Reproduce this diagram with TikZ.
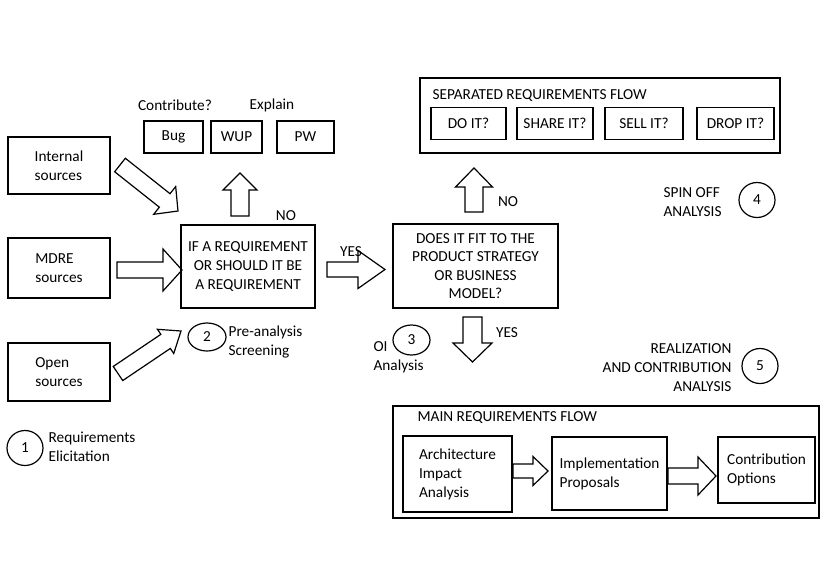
\documentclass[tikz,border=0pt]{standalone}
\usepackage{fontspec}
\setmainfont{Carlito}
\usetikzlibrary{calc, shapes.geometric}

\newcommand{\fatarrow}[5]{%
  \coordinate (fa base) at ($(#2)!#5!(#1)$);
  \draw[fat arrow] ($(#1)!#3!90:(#2)$) -- ($(fa base)!#3!90:(#2)$)
    -- ($(fa base)!#4!90:(#2)$) -- (#2) -- ($(fa base)!#4!-90:(#2)$)
    -- ($(fa base)!#3!-90:(#2)$) -- ($(#1)!#3!-90:(#2)$) -- cycle;}

\begin{document}
\begin{tikzpicture}[x=1pt, y=-1pt, line width=1.2pt,
  every node/.style={font=\fontsize{15.3pt}{19pt}\selectfont},
  box/.style={draw, align=left, inner sep=0pt},
  choice/.style={draw, align=center, inner sep=0pt, minimum height=32pt},
  stage/.style={ellipse, draw, inner sep=0pt, minimum width=36pt, minimum height=35pt},
  note/.style={inner sep=0pt, align=left},
  fat arrow/.style={draw, line join=miter}]
\useasboundingbox (0,0) rectangle (830,587);

\node[box, minimum width=102pt, minimum height=57pt](internal) at (59,165.5){Internal\\sources};
\node[box, minimum width=102pt, minimum height=60pt](mdre) at (59,268){MDRE\\sources};
\node[box, minimum width=102pt, minimum height=58pt](open) at (59,372){Open\\sources};

\node[box, align=center, minimum width=134pt, minimum height=83pt](screen) at (248,266.5){IF A REQUIREMENT\\OR SHOULD IT BE\\A REQUIREMENT};
\foreach \n/\x/\w/\t in {bug/173.5/59/Bug, wup/236.5/51/WUP, pw/305.5/57/PW}{
    \node[choice, minimum width=\w pt](\n) at (\x,137){\t};}
\node[note](contribute) at (175,105){Contribute?};
\node[note](explain) at (272,105){Explain};

\node[box, align=center, minimum width=165pt, minimum height=84pt,
  font=\fontsize{15.3pt}{18.4pt}\selectfont](fit) at (475.5,266){DOES IT FIT TO THE\\PRODUCT STRATEGY\\OR BUSINESS\\MODEL?};

\node[box, minimum width=360pt, minimum height=75pt](separated) at (600,115.5){};
\node[note, anchor=west](sep title) at (432,96){SEPARATED REQUIREMENTS FLOW};
\foreach \n/\x/\w/\t in {doit/468.5/75/DO IT?, shareit/555/76/SHARE IT?, sellit/644/78/SELL IT?, dropit/735.5/77/DROP IT?}{
    \node[choice, minimum width=\w pt](\n) at (\x,123.5){\t};}

\node[box, minimum width=426pt, minimum height=112pt](mainflow) at (606,462){};
\node[note, anchor=west](main title) at (417,418){MAIN REQUIREMENTS FLOW};
\node[box, minimum width=109pt, minimum height=76pt](arch) at (457.5,474){Architecture\\Impact\\Analysis};
\node[box, minimum width=115pt, minimum height=73pt](impl) at (609.5,473.5){Implementation\\Proposals};
\node[box, minimum width=97pt, minimum height=66pt](contrib) at (766.5,470){Contribution\\Options};

\node[stage](s1) at (25,448){1};
\node[note, anchor=west](s1 text) at (48,447){Requirements\\Elicitation};
\node[stage, minimum width=38pt, minimum height=28pt](s2) at (207,337){2};
\node[note, anchor=west](s2 text) at (228,342){Pre-analysis\\Screening};
\node[stage, minimum width=37pt, minimum height=30pt](s3) at (411.5,340){3};
\node[note, anchor=west](s3 text) at (373,357){OI\\Analysis};
\node[stage](s4) at (757,200){4};
\node[note, anchor=west](s4 text) at (663,202){SPIN OFF\\ANALYSIS};
\node[stage](s5) at (760,366){5};
\node[note, anchor=east, align=right](s5 text) at (732,368){REALIZATION\\AND CONTRIBUTION\\ANALYSIS};

\node[note](no screen) at (286,216){NO};
\node[note](yes screen) at (351,252){YES};
\node[note](no fit) at (508,202){NO};
\node[note](yes fit) at (507,333){YES};

\coordinate (a1 tail) at (120,165);   \coordinate (a1 tip) at (178,211);
\coordinate (a2 tail) at (117,270);   \coordinate (a2 tip) at (182,270);
\coordinate (a3 tail) at (118,373.5); \coordinate (a3 tip) at (181,331);
\coordinate (a4 tail) at (240,216);   \coordinate (a4 tip) at (240,173);
\coordinate (a5 tail) at (327,269.5); \coordinate (a5 tip) at (385,269.5);
\coordinate (a6 tail) at (474,212);   \coordinate (a6 tip) at (474,168);
\coordinate (a7 tail) at (472.5,317); \coordinate (a7 tip) at (472.5,362);
\coordinate (a8 tail) at (513,471);   \coordinate (a8 tip) at (548,471);
\coordinate (a9 tail) at (668,476);   \coordinate (a9 tip) at (716,476);
\fatarrow{a1 tail}{a1 tip}{8.6pt}{17.7pt}{17pt}
\fatarrow{a2 tail}{a2 tip}{8pt}{21pt}{19pt}
\fatarrow{a3 tail}{a3 tip}{8.5pt}{14.6pt}{18.6pt}
\fatarrow{a4 tail}{a4 tip}{9pt}{17pt}{17pt}
\fatarrow{a5 tail}{a5 tip}{7.5pt}{19pt}{27pt}
\fatarrow{a6 tail}{a6 tip}{9pt}{18.5pt}{19pt}
\fatarrow{a7 tail}{a7 tip}{9.5pt}{19.5pt}{19pt}
\fatarrow{a8 tail}{a8 tip}{7pt}{14.5pt}{15pt}
\fatarrow{a9 tail}{a9 tip}{8pt}{19pt}{18pt}
\end{tikzpicture}
\end{document}
